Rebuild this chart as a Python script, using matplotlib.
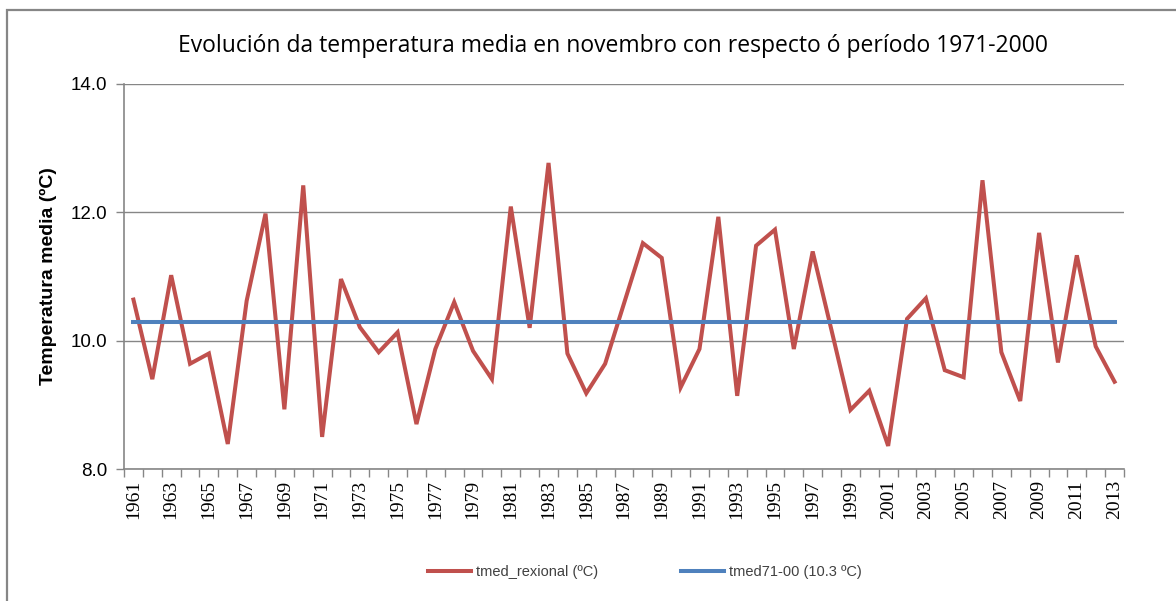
import matplotlib
matplotlib.use("Agg")
import matplotlib.pyplot as plt
from matplotlib.patches import Rectangle
from matplotlib.ticker import FixedLocator

years = list(range(1961, 2014))
tmed_rexional = [10.64, 9.40, 11.02, 9.64, 9.80, 8.39, 10.62, 11.98, 8.93, 12.42,
                 8.50, 10.96, 10.21, 9.82, 10.13, 8.70, 9.87, 10.60, 9.84, 9.40,
                 12.09, 10.20, 12.77, 9.80, 9.18, 9.64, 10.58, 11.52, 11.29, 9.27,
                 9.87, 11.93, 9.14, 11.48, 11.73, 9.87, 11.39, 10.16, 8.92, 9.22,
                 8.36, 10.34, 10.66, 9.54, 9.43, 12.50, 9.82, 9.06, 11.68, 9.66,
                 11.33, 9.91, 9.36]
tmed_ref = 10.29
y_ticks = [8.0, 10.0, 12.0, 14.0]

title = "Evolución da temperatura media en novembro con respecto ó período 1971-2000"
ylabel = "Temperatura media (ºC)"
label_series = "tmed_rexional (ºC)"
label_ref = "tmed71-00 (10.3 ºC)"

W, H = 1176, 601
fig = plt.figure(figsize=(W / 100, H / 100), dpi=100)
ax = fig.add_axes([124 / W, 1 - 469 / H, 1000 / W, 385 / H])

x = list(range(len(years)))
ax.plot(x, tmed_rexional, color="#C0504D", lw=2.9, solid_joinstyle="miter",
        label=label_series, zorder=3)
ax.plot(x, [tmed_ref] * len(x), color="#4F81BD", lw=2.9, label=label_ref, zorder=3)

ax.set_xlim(-0.5, len(x) - 0.5)
ax.set_ylim(8, 14)
ax.set_yticks(y_ticks)
ax.set_yticklabels([f"{v:.1f}" for v in y_ticks], fontsize=13.5,
                   family="Liberation Sans")
ax.yaxis.grid(True, color="#868686", lw=1.0)
ax.set_axisbelow(True)

ax.set_xticks(x[::2])
ax.set_xticklabels([str(y) for y in years[::2]], rotation=90, fontsize=14,
                   family="Liberation Serif")
ax.xaxis.set_minor_locator(FixedLocator([i - 0.5 for i in range(len(x) + 1)]))
ax.tick_params(axis="x", which="major", length=0, pad=8)
ax.tick_params(axis="x", which="minor", length=6, color="#868686", width=1)
ax.tick_params(axis="y", length=6, color="#868686", width=1, pad=6)

for s in ["top", "right"]:
    ax.spines[s].set_visible(False)
for s in ["left", "bottom"]:
    ax.spines[s].set_color("#868686")
    ax.spines[s].set_linewidth(1.2)

fig.text(48 / W, 1 - 276 / H, ylabel, rotation=90, ha="center", va="center",
         fontsize=14, fontweight="bold", family="Liberation Sans")
fig.text(613 / W, 1 - 46 / H, title, ha="center", va="center", fontsize=16.5,
         family="Open Sans")

fig.legend(loc="center", bbox_to_anchor=(645 / W, 1 - 572 / H), ncol=2,
           frameon=False, handlelength=2.95, handletextpad=0.35,
           columnspacing=5.7, labelcolor="#404040",
           prop={"family": "Liberation Sans", "size": 10.5})

fig.add_artist(Rectangle((7 / W, -0.05), 1.1, 1 - 10 / H + 0.05,
                         transform=fig.transFigure, fill=False,
                         edgecolor="#868686", lw=1.6, clip_on=False))

fig.savefig("out.png", dpi=100)
